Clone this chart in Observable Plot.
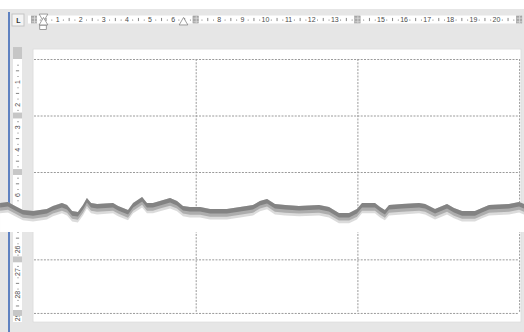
<!DOCTYPE html>
<html>
<head>
<meta charset="utf-8">
<script src="https://cdn.jsdelivr.net/npm/d3@7"></script>
<script src="https://cdn.jsdelivr.net/npm/@observablehq/plot@0.6"></script>
<style>
html, body { margin: 0; padding: 0; background: #e6e6e6; overflow: hidden; }
#chart svg { display: block; }
</style>
</head>
<body>
<div id="chart"></div>
<script>
// ---------- values (all in centimetres of the Word page) ----------
const hRulerNumbers = [1, 2, 3, 4, 5, 6, 8, 9, 10, 11, 12, 13, 15, 16, 17, 18, 19, 20];
const columnEdges = [0, 7, 14, 21];          // table column boundaries (ruler markers)
const innerColumnLines = [7, 14, 21];        // dashed vertical gridlines
const tableRowsTop = [0, 2.5, 5];            // row boundaries above the tear
const tableRowsBottom = [26.46, 28.83];      // row boundaries below the tear
const vRulerTopNumbers = [1, 2, 3, 4, 6];
const vRulerBottomNumbers = [26, 27, 28, 29];
const indentMarkers = [0.39];                // hourglass (first-line / hanging indent)
const rightIndentMarkers = [6.45];
// torn edge of the page (x cm, y cm)
const tearX = [-1.47, -1.13, -0.82, -0.48, -0.04, 0.56, 0.82, 1.21, 1.43, 1.65, 1.90, 2.12, 2.29, 2.47, 2.73, 3.42, 3.64, 4.07, 4.29, 4.68, 4.89, 5.15, 5.45, 5.89, 6.19, 6.45, 6.75, 7.19, 7.62, 8.35, 8.92, 9.48, 9.78, 10.09, 10.43, 10.87, 11.47, 12.34, 12.77, 13.20, 13.64, 13.98, 14.20, 14.76, 14.98, 15.19, 15.37, 15.93, 16.67, 16.93, 17.36, 17.88, 18.18, 18.53, 19.09, 19.39, 19.70, 20.56, 21.00, 21.22];
const tearY = [6.37, 6.33, 6.50, 6.68, 6.73, 6.64, 6.50, 6.37, 6.46, 6.73, 6.77, 6.46, 6.15, 6.37, 6.42, 6.37, 6.50, 6.68, 6.37, 6.11, 6.37, 6.37, 6.28, 6.15, 6.28, 6.50, 6.55, 6.55, 6.64, 6.64, 6.55, 6.46, 6.28, 6.19, 6.42, 6.46, 6.50, 6.46, 6.55, 6.81, 6.81, 6.64, 6.37, 6.37, 6.55, 6.68, 6.46, 6.42, 6.37, 6.42, 6.64, 6.42, 6.59, 6.73, 6.73, 6.59, 6.46, 6.42, 6.33, 6.42];

// ---------- window geometry (cm) ----------
const view = {left: -1.472, right: 21.212, top: -2.611, breakTop: 7.65, breakBottom: 25.25, bottom: 29.673};
const pageBox = {left: -0.04, right: 21.08, top: -0.44, bottom: 29.23};
const hRuler = {left: -0.26, right: 21.08, top: -1.925, bottom: -1.571, mid: -1.748};
const vRuler = {left: -0.909, right: -0.519, mid: -0.714};
const tabBox = {left: -0.952, right: -0.433, top: -1.991, bottom: -1.46};
const topBand = -2.212;
const blueLineX = -1.104;
const blueLineTop = -2.08;

const tear = tearX.map((x, i) => ({x, y: tearY[i]}));
const quarters = (a, b) => d3.range(a, b + 1e-9, 0.25).filter(v => Math.abs(v % 0.5) > 1e-6 && Math.abs(v % 0.5 - 0.5) > 1e-6);
const halves = (a, b) => d3.range(a, b + 1e-9, 1);

const hDots = quarters(0, 21);
const hTicks = halves(0.5, 20.5);
const vDotsTop = quarters(0.25, 6.25);
const vTicksTop = halves(0.5, 5.5).filter(v => v !== 2.5);
const vDotsBottom = quarters(25.25, 29.0);
const vTicksBottom = halves(25.5, 28.5);
const rowMarkers = [...tableRowsTop.slice(1), ...tableRowsBottom];
const markerBars = columnEdges.flatMap(c => [-0.08, 0.08].map(o => ({c, o})));

const rulerText = "#4a4a4a";
const markerGray = "#c6c6c6";
const gridGray = "#9a9a9a";
const font = "Liberation Sans, Arial, sans-serif";

const chart = Plot.plot({
  width: 524,
  height: 332,
  margin: 0,
  style: {background: "#e6e6e6"},
  x: {domain: [view.left, view.right], range: [0, 524], axis: null},
  y: {type: "linear", domain: [view.top, view.breakTop, view.breakBottom, view.bottom], range: [0, 231.9, 232, 332], axis: null},
  marks: [
    Plot.frame({fill: "#e6e6e6", stroke: "none"}),
    // white strip at the very top
    Plot.rect([0], {x1: view.left, x2: view.right, y1: view.top, y2: topBand, fill: "white"}),
    // blue left edge of the window
    Plot.ruleX([blueLineX], {y1: blueLineTop, y2: view.bottom, stroke: "#3e6ab8", strokeWidth: 1.6}),
    // horizontal ruler strip
    Plot.rect([0], {x1: hRuler.left, x2: hRuler.right, y1: hRuler.top, y2: hRuler.bottom, fill: "white"}),
    // tab selector box
    Plot.rect([0], {x1: tabBox.left, x2: tabBox.right, y1: tabBox.top, y2: tabBox.bottom, fill: "#f4f4f4", stroke: "#c4c4c4"}),
    Plot.text(["L"], {x: (tabBox.left + tabBox.right) / 2, y: (tabBox.top + tabBox.bottom) / 2, fontSize: 7, fontWeight: "bold", fill: "#333", fontFamily: font}),
    // page
    Plot.rect([0], {x1: pageBox.left, x2: pageBox.right, y1: pageBox.top, y2: pageBox.bottom, fill: "white", stroke: "#d8d8d8", strokeWidth: 0.6}),
    // vertical ruler strip
    Plot.rect([0], {x1: vRuler.left, x2: vRuler.right, y1: pageBox.top - 0.09, y2: pageBox.bottom, fill: "white"}),
    Plot.rect([0], {x1: vRuler.left, x2: vRuler.right, y1: pageBox.top - 0.09, y2: 0, fill: markerGray}),
    // table gridlines (dashed)
    Plot.ruleY([...tableRowsTop, ...tableRowsBottom], {x1: columnEdges[0], x2: columnEdges[3], stroke: gridGray, strokeDasharray: "2,1.3", strokeWidth: 1}),
    Plot.ruleX(innerColumnLines, {y1: tableRowsTop[0], y2: tableRowsBottom[1], stroke: gridGray, strokeDasharray: "2,1.3", strokeWidth: 1}),
    // horizontal ruler ticks and numbers
    Plot.dot(hDots, {x: d => d, y: hRuler.mid, r: 0.55, fill: "#666", stroke: "none"}),
    Plot.ruleX(hTicks, {y1: hRuler.mid - 0.07, y2: hRuler.mid + 0.07, stroke: "#666", strokeWidth: 0.8}),
    Plot.text(hRulerNumbers, {x: d => d, y: hRuler.mid, text: d => String(d), fontSize: 7, fill: rulerText, fontFamily: font}),
    // column markers (small grid glyphs)
    Plot.rect(columnEdges, {x1: d => d - 0.12, x2: d => d + 0.12, y1: hRuler.top + 0.02, y2: hRuler.bottom - 0.02, fill: "#a8a8a8", stroke: "#9a9a9a", strokeWidth: 0.5}),
    Plot.link(markerBars, {x1: d => d.c - 0.12, x2: d => d.c + 0.12, y1: d => hRuler.mid + d.o, y2: d => hRuler.mid + d.o, stroke: "#e4e4e4", strokeWidth: 0.7}),
    Plot.ruleX(columnEdges, {y1: hRuler.top + 0.02, y2: hRuler.bottom - 0.02, stroke: "#e4e4e4", strokeWidth: 0.7}),
    // indent markers
    Plot.rect(indentMarkers, {x1: d => d - 0.14, x2: d => d + 0.14, y1: -1.50, y2: -1.30, fill: "white", stroke: "#777", strokeWidth: 0.7}),
    Plot.dot(indentMarkers, {x: d => d, y: -1.90, symbol: "triangle", rotate: 180, r: 3.2, fill: "white", stroke: "#777", strokeWidth: 0.7}),
    Plot.dot(indentMarkers, {x: d => d, y: -1.64, symbol: "triangle", r: 3.2, fill: "white", stroke: "#777", strokeWidth: 0.7}),
    Plot.dot(rightIndentMarkers, {x: d => d, y: -1.64, symbol: "triangle", r: 3.2, fill: "white", stroke: "#777", strokeWidth: 0.7}),
    // vertical ruler ticks and numbers
    Plot.dot([...vDotsTop, ...vDotsBottom], {x: vRuler.mid, y: d => d, r: 0.55, fill: "#666", stroke: "none"}),
    Plot.ruleY([...vTicksTop, ...vTicksBottom], {x1: vRuler.mid - 0.07, x2: vRuler.mid + 0.07, stroke: "#666", strokeWidth: 0.8}),
    Plot.text([...vRulerTopNumbers, ...vRulerBottomNumbers], {x: vRuler.mid, y: d => d, text: d => String(d), rotate: -90, fontSize: 7, fill: rulerText, fontFamily: font}),
    Plot.rect(rowMarkers, {x1: vRuler.left, x2: vRuler.right, y1: d => d - 0.13, y2: d => d + 0.13, fill: markerGray}),
    // end of the vertical ruler at the page bottom
    Plot.rect([0], {x1: vRuler.left - 0.05, x2: vRuler.right + 0.05, y1: pageBox.bottom, y2: view.bottom, fill: "#e6e6e6"}),
    // torn-paper break: blank band below the jagged edge
    Plot.areaY(tear, {x: "x", y1: "y", y2: view.breakTop, fill: "white", curve: "linear"}),
    // its shadow
    Plot.areaY(tear, {x: "x", y1: "y", y2: d => d.y + 0.46, fill: "#5a5a5a", fillOpacity: 0.22, curve: "linear"}),
    Plot.areaY(tear, {x: "x", y1: "y", y2: d => d.y + 0.34, fill: "#5a5a5a", fillOpacity: 0.35, curve: "linear"}),
    Plot.areaY(tear, {x: "x", y1: "y", y2: d => d.y + 0.2, fill: "#5a5a5a", fillOpacity: 0.5, curve: "linear"})
  ]
});
document.getElementById("chart").append(chart);
</script>
</body>
</html>
